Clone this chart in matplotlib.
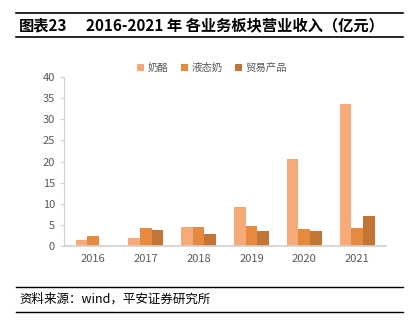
import numpy as np
import matplotlib
matplotlib.use("Agg")
import matplotlib.pyplot as plt
from matplotlib.lines import Line2D

plt.rcParams['font.family'] = ['Noto Sans CJK SC', 'DejaVu Sans']

years = ["2016", "2017", "2018", "2019", "2020", "2021"]
cheese = [1.4, 2.0, 4.6, 9.2, 20.6, 33.6]
liquid_milk = [2.3, 4.3, 4.6, 4.8, 4.0, 4.3]
trade = [0.0, 3.8, 2.8, 3.5, 3.5, 7.2]
series_names = ["奶酪", "液态奶", "贸易产品"]
colors = ["#F6AA78", "#E68A3F", "#C27535"]

fig = plt.figure(figsize=(4.13, 3.29), dpi=100)
ax = fig.add_axes([0.155, 0.252, 0.78, 0.514])

x = np.arange(len(years))
w = 0.22
for i, (vals, name, c) in enumerate(zip([cheese, liquid_milk, trade], series_names, colors)):
    ax.bar(x + (i - 1) * w, vals, width=w, color=c, label=name)

ax.set_ylim(0, 40)
ax.set_yticks(range(0, 41, 5))
ax.set_xlim(-0.55, len(years) - 0.45)
ax.set_xticks(x)
ax.set_xticklabels(years)
for s in ["top", "right"]:
    ax.spines[s].set_visible(False)
ax.spines["left"].set_color("#d0d0d0")
ax.spines["bottom"].set_color("#d0d0d0")
ax.spines["bottom"].set_linewidth(1.2)
ax.tick_params(axis="y", colors="#d0d0d0", labelcolor="#595959", labelsize=8, length=3)
ax.tick_params(axis="x", length=0, labelcolor="#595959", labelsize=8, pad=6)

# legend sits a bit left of the axes centre, as in the source
fig.legend(*ax.get_legend_handles_labels(), loc="center",
           bbox_to_anchor=(212/413, 1 - 68/329), ncol=3, frameon=False,
           fontsize=7.5, handlelength=0.7, handleheight=0.7, handletextpad=0.3,
           columnspacing=1.2, labelcolor="#595959")

# title block
fig.add_artist(Line2D([16/413, 403/413], [1 - 13/329] * 2, color="black", lw=1.2))
fig.add_artist(Line2D([16/413, 403/413], [1 - 37/329] * 2, color="black", lw=1.2))
fig.text(19/413, 1 - 25/329, "图表23", fontsize=11, fontweight="bold", va="center", ha="left")
fig.text(86/413, 1 - 25/329, "2016-2021 年 各业务板块营业收入（亿元）",
         fontsize=11, fontweight="bold", va="center", ha="left")

# source block
fig.add_artist(Line2D([16/413, 403/413], [1 - 287/329] * 2, color="black", lw=1.0))
fig.add_artist(Line2D([16/413, 403/413], [1 - 312/329] * 2, color="black", lw=1.0))
fig.text(19/413, 1 - 299/329, "资料来源：wind，平安证券研究所",
         fontsize=9, style="italic", va="center", ha="left")

fig.savefig("out.png", dpi=100)
